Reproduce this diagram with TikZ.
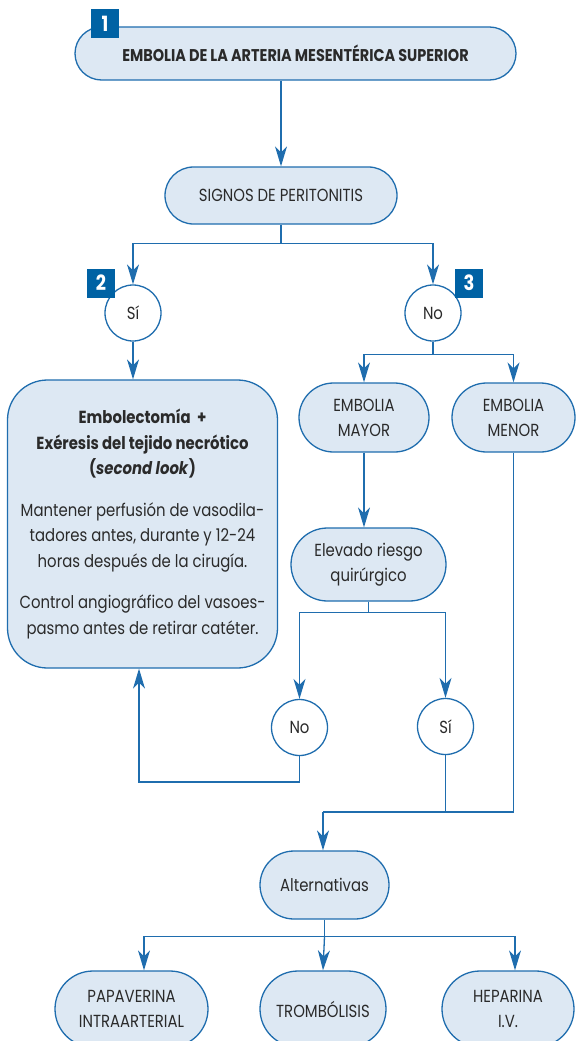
\documentclass[tikz,border=0pt]{standalone}
\usepackage{fontspec}
\setmainfont{Poppins}[FakeStretch=0.85]
\usetikzlibrary{arrows.meta,calc,positioning,shapes.misc}

\definecolor{flowblue}{HTML}{1F6DAE}
\definecolor{flowfill}{HTML}{DDE8F3}
\definecolor{badgeblue}{HTML}{0062A4}
\definecolor{flowtext}{HTML}{2A2A2A}

\tikzset{
  stadium/.style={rounded rectangle, draw=flowblue, fill=flowfill, line width=1.3pt,
    text=flowtext, align=center, inner sep=0pt, font=\fontsize{17.5}{25}\selectfont},
  choice/.style={circle, draw=flowblue, fill=white, line width=1.3pt, minimum size=56pt,
    inner sep=0pt, text=flowtext, font=\fontsize{17.5}{25}\selectfont},
  badge/.style={fill=badgeblue, text=white, font=\fontsize{21}{21}\selectfont\bfseries,
    minimum width=28pt, minimum height=29pt, inner sep=0pt},
  link/.style={draw=flowblue, line width=1.3pt},
  arr/.style={link, -{Stealth[length=20pt,width=12pt,inset=6pt]}},
}

\begin{document}
\begin{tikzpicture}[x=1pt,y=-1pt]
  \useasboundingbox (0,0) rectangle (580,1041);
  % Boxes
  \node[stadium, minimum width=441pt, minimum height=53pt,
    font=\fontsize{17}{20}\selectfont\bfseries] (title) at (295.5,53.5)
    {EMBOLIA DE LA ARTERIA MESENTÉRICA SUPERIOR};
  \node[stadium, minimum width=232pt, minimum height=57pt] (signos) at (281,195.5)
    {SIGNOS DE PERITONITIS};
  \node[choice] (si1) at (133,313) {Sí};
  \node[choice] (no1) at (433,313) {No};
  \node[rectangle, rounded corners=40pt, draw=flowblue, fill=flowfill, line width=1.3pt,
    text=flowtext, align=center, inner sep=0pt, minimum width=270pt, minimum height=288pt,
    font=\fontsize{17.5}{25.5}\selectfont] (trat) at (142.5,524)
    {\textbf{Embolectomía\ \ +}\\
     \textbf{Exéresis del tejido necrótico}\\
     \textbf{(\textit{second look})}\\[16pt]
     Mantener perfusión de vasodila-\\
     tadores antes, durante y 12-24\\
     horas después de la cirugía.\\[16pt]
     Control angiográfico del vasoes-\\
     pasmo antes de retirar catéter.};
  \node[stadium, minimum width=130pt, minimum height=69pt] (mayor) at (364,417.5)
    {EMBOLIA\\MAYOR};
  \node[stadium, minimum width=123pt, minimum height=69pt] (menor) at (513.5,417.5)
    {EMBOLIA\\MENOR};
  \node[stadium, minimum width=155pt, minimum height=73pt] (riesgo) at (368.5,564.5)
    {Elevado riesgo\\quirúrgico};
  \node[choice] (no2) at (299.5,727.5) {No};
  \node[choice] (si2) at (445.5,726.5) {Sí};
  \node[stadium, minimum width=129pt, minimum height=68pt] (altern) at (324.5,885)
    {Alternativas};
  \node[stadium, minimum width=153pt, minimum height=76pt] (papav) at (131.5,1009)
    {PAPAVERINA\\INTRAARTERIAL};
  \node[stadium, minimum width=126pt, minimum height=76pt] (tromb) at (323,1009)
    {TROMBÓLISIS};
  \node[stadium, minimum width=132pt, minimum height=76pt] (hepar) at (508,1009)
    {HEPARINA\\I.V.};
  % Connectors
  \draw[arr] (title.south -| signos.north) -- (signos.north);
  \draw[link] (signos.south) -- ++(0,19) coordinate (split1);
  \draw[arr] (split1) -| (si1.north);
  \draw[arr] (split1) -| (no1.north);
  \draw[arr] (si1.south) -- (si1.south |- trat.north);
  \draw[link] (no1.south) -- ++(0,13) coordinate (split2);
  \draw[arr] (split2) -| (mayor.north);
  \draw[arr] (split2) -| (menor.north);
  \draw[arr] (mayor.south) -- (mayor.south |- riesgo.north);
  \draw[link] (riesgo.south) -- ++(0,11) coordinate (split3);
  \draw[arr] (split3) -| (no2.north);
  \draw[arr] (split3) -| (si2.north);
  \coordinate (back) at (139,782);
  \draw[arr] (no2.south) |- (back) -- (back |- trat.south);
  \coordinate (join) at (323,812);
  \draw[link] (menor.south) |- (join);
  \draw[link] (si2.south) -- (si2.south |- join);
  \draw[arr] (join) -- (join |- altern.north);
  \draw[link] (altern.south) -- ++(0,17) coordinate (split4);
  \draw[arr] (split4) -| ([xshift=12.5pt]papav.north);
  \draw[arr] (split4) -- (tromb.north);
  \draw[arr] (split4) -| ([xshift=7pt]hepar.north);
  % Badges
  \node[badge] (b1) at (105,23.5) {1};
  \node[badge] (b2) at (101,283) {2};
  \node[badge] (b3) at (469,283) {3};
\end{tikzpicture}
\end{document}
